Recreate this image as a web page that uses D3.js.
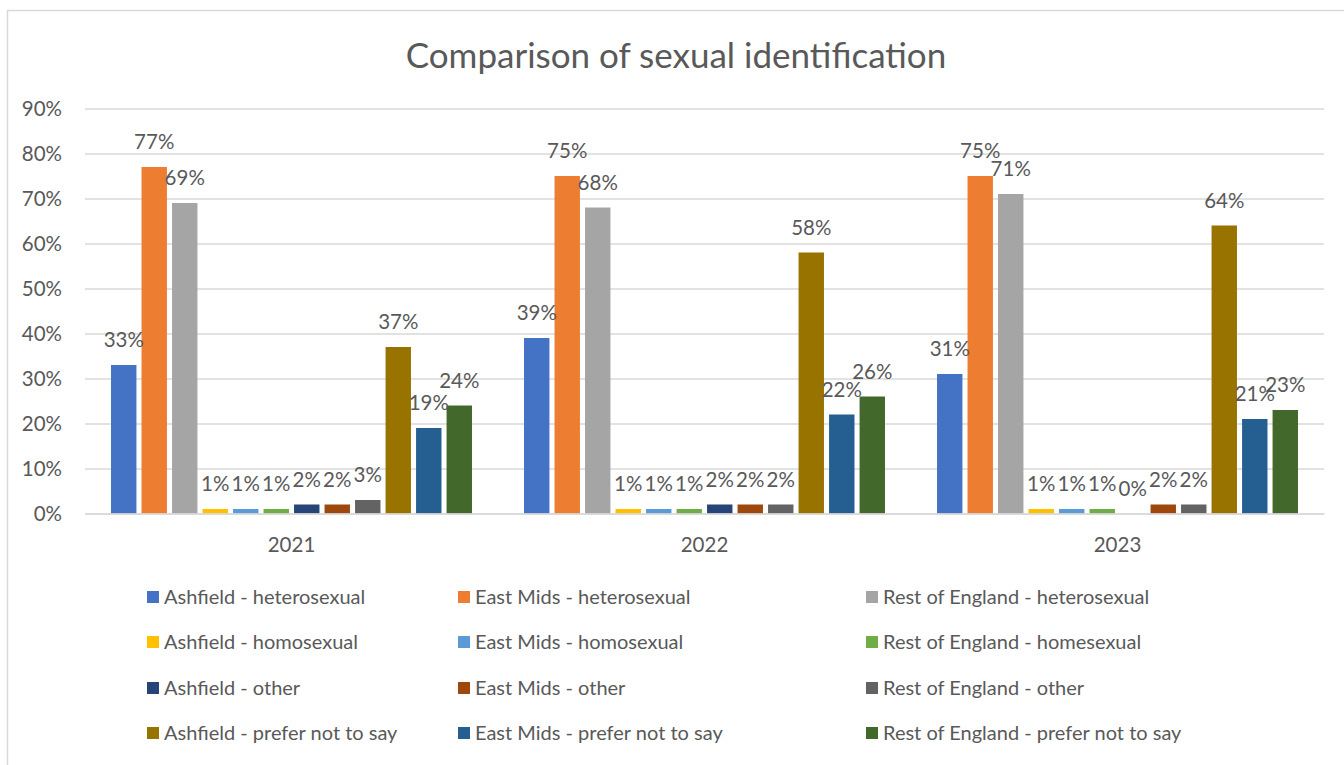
<!DOCTYPE html>
<html>
<head>
<meta charset="utf-8">
<script src="https://cdn.jsdelivr.net/npm/d3@7"></script>
<style>
  html, body { margin: 0; padding: 0; background: #fff; }
  svg { display: block; }
  text { font-family: Lato, "Open Sans", sans-serif; fill: #595959; }
</style>
</head>
<body>
<svg id="chart" width="1344" height="765"></svg>
<script>
const years = ["2021", "2022", "2023"];
const seriesNames = [
  "Ashfield - heterosexual", "East Mids - heterosexual", "Rest of England - heterosexual",
  "Ashfield - homosexual", "East Mids - homosexual", "Rest of England - homesexual",
  "Ashfield - other", "East Mids - other", "Rest of England - other",
  "Ashfield - prefer not to say", "East Mids - prefer not to say", "Rest of England - prefer not to say"
];
const seriesColors = [
  "#4472C4", "#ED7D31", "#A5A5A5",
  "#FFC000", "#5B9BD5", "#70AD47",
  "#264478", "#9E480E", "#636363",
  "#997300", "#255E91", "#43682B"
];
const values2021 = [33, 77, 69, 1, 1, 1, 2, 2, 3, 37, 19, 24];
const values2022 = [39, 75, 68, 1, 1, 1, 2, 2, 2, 58, 22, 26];
const values2023 = [31, 75, 71, 1, 1, 1, 0, 2, 2, 64, 21, 23];
const yTicks = [0, 10, 20, 30, 40, 50, 60, 70, 80, 90];
const title = "Comparison of sexual identification";

const valuesByYear = [values2021, values2022, values2023];
const data = years.map((y, i) => ({
  year: y,
  items: seriesNames.map((s, j) => ({ series: s, idx: j, value: valuesByYear[i][j] }))
}));

const svg = d3.select("#chart");
const plot = { left: 85, right: 1324, top: 108.5, bottom: 513.5 };

// outer border (only top/left visible)
svg.append("rect")
  .attr("x", 7.5).attr("y", 10.5)
  .attr("width", 1400).attr("height", 800)
  .attr("fill", "none").attr("stroke", "#D9D9D9").attr("stroke-width", 1.5);

svg.append("text")
  .attr("x", 676).attr("y", 68)
  .attr("text-anchor", "middle")
  .attr("font-size", 35)
  .text(title);

const y = d3.scaleLinear().domain([0, 90]).range([plot.bottom, plot.top]);
const x0 = d3.scaleBand().domain(years).range([plot.left, plot.right])
  .paddingInner(0.126).paddingOuter(0.063);
const x1 = d3.scaleBand().domain(d3.range(seriesNames.length)).range([0, x0.bandwidth()])
  .paddingInner(0.167).paddingOuter(0);

// gridlines
const yAxis = d3.axisLeft(y).tickValues(yTicks).tickSize(-(plot.right - plot.left))
  .tickFormat(d => d + "%").tickPadding(23);
const gy = svg.append("g").attr("transform", `translate(${plot.left},0)`).call(yAxis);
gy.select(".domain").remove();
gy.selectAll(".tick line").attr("stroke", "#D9D9D9").attr("stroke-width", 1.5);
gy.selectAll(".tick text").attr("font-size", 20.5).attr("fill", "#595959")
  .style("font-family", "Lato, sans-serif");

// bars
const groups = svg.append("g").selectAll("g").data(data).join("g")
  .attr("transform", d => `translate(${x0(d.year)},0)`);
groups.selectAll("rect").data(d => d.items).join("rect")
  .attr("x", d => x1(d.idx))
  .attr("width", x1.bandwidth())
  .attr("y", d => y(d.value))
  .attr("height", d => y(0) - y(d.value))
  .attr("fill", d => seriesColors[d.idx]);
groups.selectAll("text").data(d => d.items).join("text")
  .attr("x", d => x1(d.idx) + x1.bandwidth() / 2)
  .attr("y", d => y(d.value) - 25)
  .attr("dy", "0.35em")
  .attr("text-anchor", "middle")
  .attr("font-size", 20.5)
  .attr("fill", "#404040")
  .text(d => d.value + "%");

// x axis
const xAxis = d3.axisBottom(x0).tickSize(0).tickPadding(24);
const gx = svg.append("g").attr("transform", `translate(0,${plot.bottom})`).call(xAxis);
gx.select(".domain").attr("stroke", "#D9D9D9").attr("stroke-width", 1.5);
gx.selectAll(".tick text").attr("font-size", 20.5).attr("fill", "#595959")
  .style("font-family", "Lato, sans-serif");

// legend
const legendCols = [147, 458, 866];
const legendRows = [597, 642, 688, 733];
const lg = svg.append("g").selectAll("g").data(seriesNames).join("g")
  .attr("transform", (d, i) => `translate(${legendCols[i % 3]},${legendRows[Math.floor(i / 3)]})`);
lg.append("rect").attr("x", 0).attr("y", -6).attr("width", 12).attr("height", 12)
  .attr("fill", (d, i) => seriesColors[i]);
lg.append("text").attr("x", 17).attr("y", 0).attr("dy", "0.35em")
  .attr("font-size", 20).text(d => d);
</script>
</body>
</html>
